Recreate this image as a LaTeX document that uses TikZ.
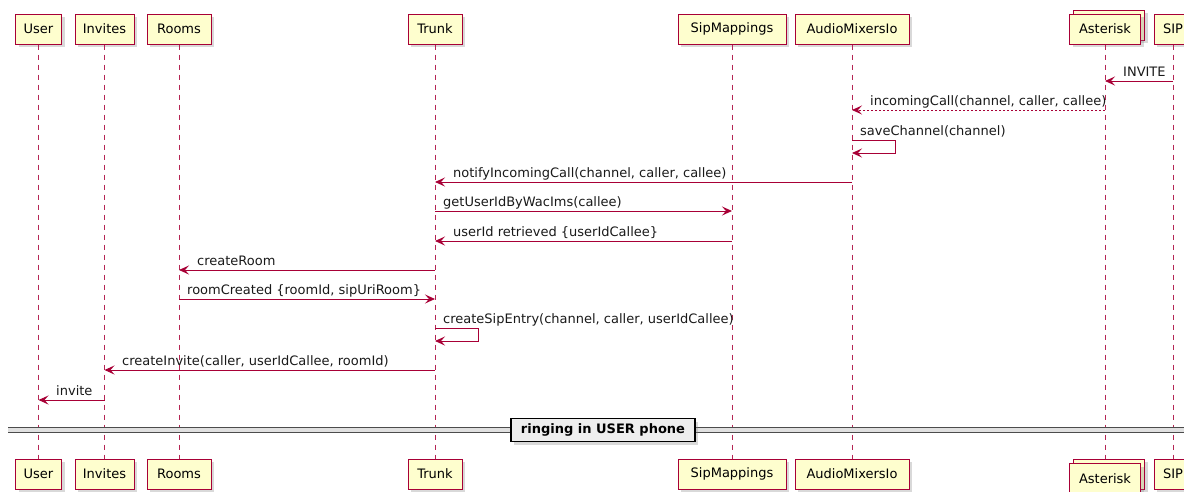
\documentclass[tikz,border=0pt]{standalone}
\usepackage{fontspec}
\setmainfont{DejaVu Sans}
\usetikzlibrary{positioning,arrows.meta,shadows,calc}
\definecolor{seqred}{HTML}{A80036}
\definecolor{seqfill}{HTML}{FEFECE}
\definecolor{sepfill}{HTML}{EEEEEE}

\begin{document}
\begin{tikzpicture}[x=1pt, y=-1pt, font=\fontsize{13}{15}\selectfont,
    part/.style={draw=seqred, fill=seqfill, line width=1pt, minimum height=30pt, inner xsep=0pt,
        drop shadow={shadow xshift=3pt, shadow yshift=-3pt, opacity=0.3}},
    life/.style={seqred!85, line width=0.7pt, dash pattern=on 5pt off 5pt},
    msg/.style={seqred, line width=0.9pt, -{Stealth[length=10pt, width=9pt, inset=4pt]}},
    reply/.style={msg, dash pattern=on 2pt off 2pt},
    lbl/.style={anchor=base west, inner sep=0pt, text=black!90}]
    \useasboundingbox (0,0) rectangle (1184,491);

    % participants, top row
    \node [part, minimum width=46pt] (user) at (38.5,29) {User};
    \node [part, minimum width=59pt] (invites) at (104.5,29) {Invites};
    \node [part, minimum width=64pt] (rooms) at (179,29) {Rooms};
    \node [part, minimum width=54pt] (trunk) at (435,29) {Trunk};
    \node [part, minimum width=108pt] (sipmap) at (732,29) {SipMappings};
    \node [part, minimum width=114pt] (mixers) at (852,29) {AudioMixersIo};
    \node [part, minimum width=71pt] (astBack) at (1109,25) {};
    \node [part, minimum width=71pt] (ast) at (1105,29) {Asterisk};
    \node [part, minimum width=38pt] (sip) at (1173,29) {SIP};

    % participants, bottom row
    \node [part, minimum width=46pt] (userB) at (38.5,474) {User};
    \node [part, minimum width=59pt] (invitesB) at (104.5,474) {Invites};
    \node [part, minimum width=64pt] (roomsB) at (179,474) {Rooms};
    \node [part, minimum width=54pt] (trunkB) at (435,474) {Trunk};
    \node [part, minimum width=108pt] (sipmapB) at (732,474) {SipMappings};
    \node [part, minimum width=114pt] (mixersB) at (852,474) {AudioMixersIo};
    \node [part, minimum width=71pt] (astBackB) at (1109,474) {};
    \node [part, minimum width=71pt] (astB) at (1105,478.5) {Asterisk};
    \node [part, minimum width=38pt] (sipB) at (1173,474) {SIP};

    % lifelines
    \draw [life] (user) -- (userB);
    \draw [life] (invites) -- (invitesB);
    \draw [life] (rooms) -- (roomsB);
    \draw [life] (trunk) -- (trunkB);
    \draw [life] (sipmap) -- (sipmapB);
    \draw [life] (mixers) -- (mixersB);
    \draw [life] (ast.south) -- (ast |- astBackB.north);
    \draw [life] (sip) -- (sipB);

    % messages
    \draw [msg] (sip |- 0,81) -- (ast |- 0,81);
    \node [lbl] (m1) at (1123,76) {INVITE};
    \draw [reply] (ast |- 0,110) -- (mixers |- 0,110);
    \node [lbl] (m2) at (870,105) {incomingCall(channel, caller, callee)};
    \draw [msg] (mixers |- 0,140) -- ++(43,0) -- ++(0,13) -- (mixers |- 0,153);
    \node [lbl] (m3) at (860,135) {saveChannel(channel)};
    \draw [msg] (mixers |- 0,182) -- (trunk |- 0,182);
    \node [lbl] (m4) at (453,177) {notifyIncomingCall(channel, caller, callee)};
    \draw [msg] (trunk |- 0,211) -- (sipmap |- 0,211);
    \node [lbl] (m5) at (443,206) {getUserIdByWacIms(callee)};
    \draw [msg] (sipmap |- 0,241) -- (trunk |- 0,241);
    \node [lbl] (m6) at (453,236) {userId retrieved \{userIdCallee\}};
    \draw [msg] (trunk |- 0,270) -- (rooms |- 0,270);
    \node [lbl] (m7) at (197,265) {createRoom};
    \draw [msg] (rooms |- 0,299) -- (trunk |- 0,299);
    \node [lbl] (m8) at (187,294) {roomCreated \{roomId, sipUriRoom\}};
    \draw [msg] (trunk |- 0,328) -- ++(43,0) -- ++(0,13) -- (trunk |- 0,341);
    \node [lbl] (m9) at (443,323) {createSipEntry(channel, caller, userIdCallee)};
    \draw [msg] (trunk |- 0,370) -- (invites |- 0,370);
    \node [lbl] (m10) at (122,365) {createInvite(caller, userIdCallee, roomId)};
    \draw [msg] (invites |- 0,400) -- (user |- 0,400);
    \node [lbl] (m11) at (56,395) {invite};

    % divider
    \fill [black!12] (8,427.5) rectangle (1184,432.5);
    \draw [black!70, line width=1.2pt] (8,427.5) -- (1184,427.5);
    \draw [black!70, line width=1.2pt] (8,432.5) -- (1184,432.5);
    \node [draw, fill=sepfill, line width=1.4pt, minimum width=184pt, minimum height=23pt, inner sep=0pt,
        font=\fontsize{13}{15}\selectfont\bfseries,
        drop shadow={shadow xshift=3pt, shadow yshift=-3pt, opacity=0.3}] (ringing) at (603,430) {ringing in USER phone\hspace{10pt}};
\end{tikzpicture}
\end{document}
